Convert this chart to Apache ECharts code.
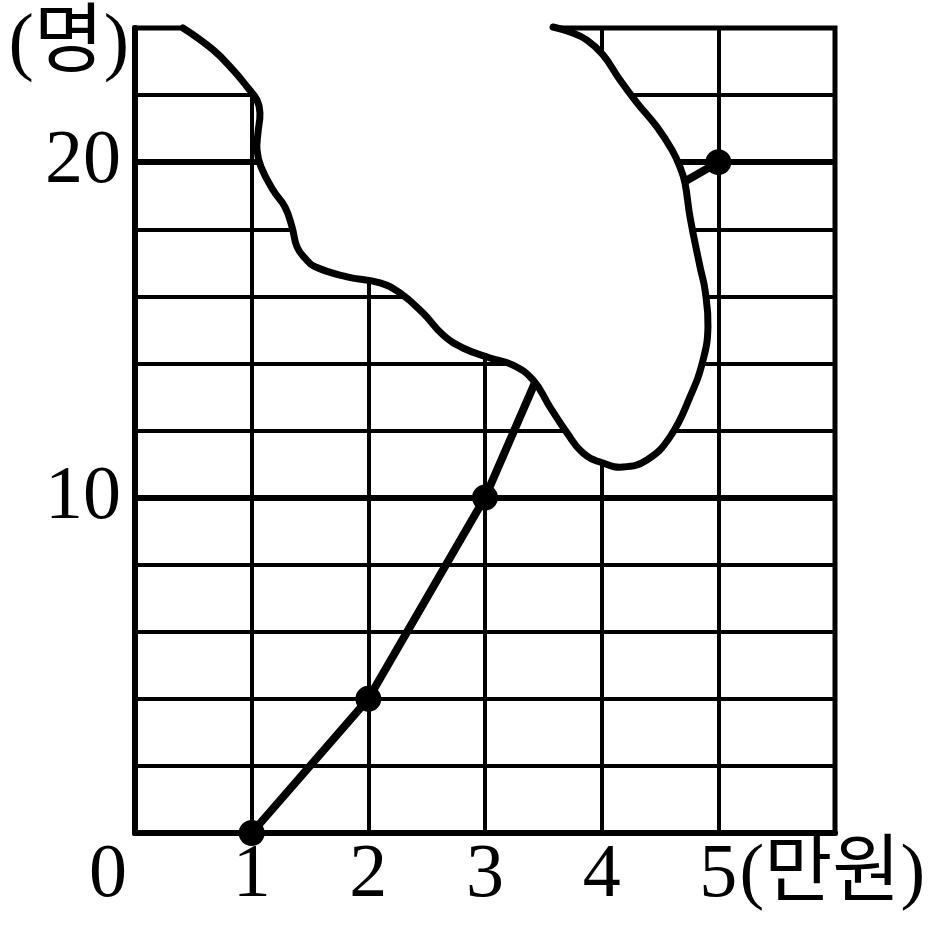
<!DOCTYPE html>
<html><head><meta charset="utf-8">
<script src="https://cdn.jsdelivr.net/npm/echarts@6/dist/echarts.min.js"></script>
<style>html,body{margin:0;padding:0;background:#fff}#c{width:936px;height:929px}</style>
</head><body><div id="c"></div>
<script>
// ---- data ----
const xMin = 0, xMax = 6, xStep = 1;
const yMin = 0, yMax = 24, yStep = 2;
const yLabelValues = [10, 20];
const majorGridY = [10, 20];
const xUnitLabel = '(만원)';
const yUnitLabel = '(명)';
const lineX = [1, 2, 3, 4, 5];
const lineY = [0, 4, 10, 18, 20];
// torn-off (covered) region outline, in data units
const blobX = [0.411,0.669,0.840,0.969,1.046,1.071,1.054,1.046,1.080,1.183,1.286,1.346,1.389,1.457,1.543,1.817,2.100,2.271,2.469,2.640,2.811,3.043,3.240,3.411,3.557,3.703,3.840,4.011,4.183,4.388,4.586,4.757,4.869,4.911,4.886,4.843,4.757,4.714,4.671,4.603,4.474,4.303,4.157,4.011,3.874,3.729,3.583];
const blobY = [24.0,23.35,22.75,22.21,21.85,21.47,20.87,20.36,19.86,19.17,18.66,18.07,17.47,17.14,16.88,16.58,16.40,16.10,15.50,14.85,14.46,14.16,13.95,13.51,12.70,11.93,11.33,11.03,10.91,11.12,11.81,13.00,14.10,15.09,16.19,16.88,18.37,19.38,19.86,20.36,21.05,21.77,22.45,23.20,23.64,23.88,24.03];

const SERIF = "'Liberation Serif','DejaVu Serif','Noto Sans CJK KR',serif";
const chart = echarts.init(document.getElementById('c'));
chart.setOption({
  backgroundColor: '#fff',
  animation: false,
  grid: { left: 135, right: 101, top: 28, bottom: 96, show: true, borderColor: '#000', borderWidth: 5, backgroundColor: 'transparent' },
  xAxis: {
    type: 'value', min: xMin, max: xMax, interval: xStep,
    axisLine: { show: true, lineStyle: { color: '#000', width: 6 } },
    axisTick: { show: false },
    splitLine: { show: true, lineStyle: { color: '#000', width: 4 } },
    axisLabel: {
      margin: 5, color: '#000', fontFamily: SERIF, fontSize: 76,
      showMinLabel: true, showMaxLabel: true,
      formatter: function (v) {
        if (v === 0) return '{z|0}';
        if (v === 5) return '{p|}{n|5}{u|' + xUnitLabel + '}';
        if (v >= 6) return '';
        return '{n|' + v + '}';
      },
      rich: {
        z: { fontFamily: SERIF, fontSize: 76, color: '#000', padding: [0, 54, 0, 0] },
        n: { fontFamily: SERIF, fontSize: 76, color: '#000' },
        p: { width: 190, fontSize: 76 },
        u: { width: 190, fontFamily: SERIF, fontSize: 74, color: '#000', align: 'left' }
      }
    }
  },
  yAxis: {
    type: 'value', min: yMin, max: yMax, interval: yStep,
    name: yUnitLabel, nameLocation: 'end', nameGap: -18,
    nameTextStyle: { fontFamily: SERIF, fontSize: 76, color: '#000', align: 'right', verticalAlign: 'middle', padding: [0, 6, 0, 0] },
    axisLine: { show: true, lineStyle: { color: '#000', width: 6 } },
    axisTick: { show: false },
    splitLine: { show: true, lineStyle: { color: '#000', width: 4 } },
    axisLabel: {
      margin: 14, color: '#000', fontFamily: SERIF, fontSize: 76,
      formatter: function (v) { return yLabelValues.indexOf(v) >= 0 ? String(v) : ''; }
    }
  },
  series: [
    {
      type: 'line', z: 3,
      data: lineX.map((x, i) => [x, lineY[i]]),
      symbol: 'circle', symbolSize: 26,
      itemStyle: { color: '#000' },
      lineStyle: { color: '#000', width: 8 },
      markLine: {
        silent: true, symbol: ['none', 'none'], label: { show: false },
        lineStyle: { color: '#000', width: 6, type: 'solid' },
        data: majorGridY.map(v => ({ yAxis: v }))
      }
    },
    {
      type: 'custom', z: 10, silent: true,
      data: blobX.map((x, i) => [x, blobY[i]]),
      encode: { x: 0, y: 1 },
      renderItem: function (params, api) {
        if (params.dataIndex !== 0) return;
        const pts = blobX.map((x, i) => api.coord([x, blobY[i]]));
        const fillPts = pts.concat([api.coord([blobX[blobX.length - 1], 24.7]), api.coord([blobX[0], 24.7])]);
        return {
          type: 'group', children: [
            { type: 'polygon', shape: { points: fillPts, smooth: 0.45 }, style: { fill: '#fff', stroke: null } },
            { type: 'polyline', shape: { points: pts, smooth: 0.45 }, style: { fill: null, stroke: '#000', lineWidth: 7, lineCap: 'round', lineJoin: 'round' } }
          ]
        };
      }
    }
  ]
});
</script>
</body></html>
